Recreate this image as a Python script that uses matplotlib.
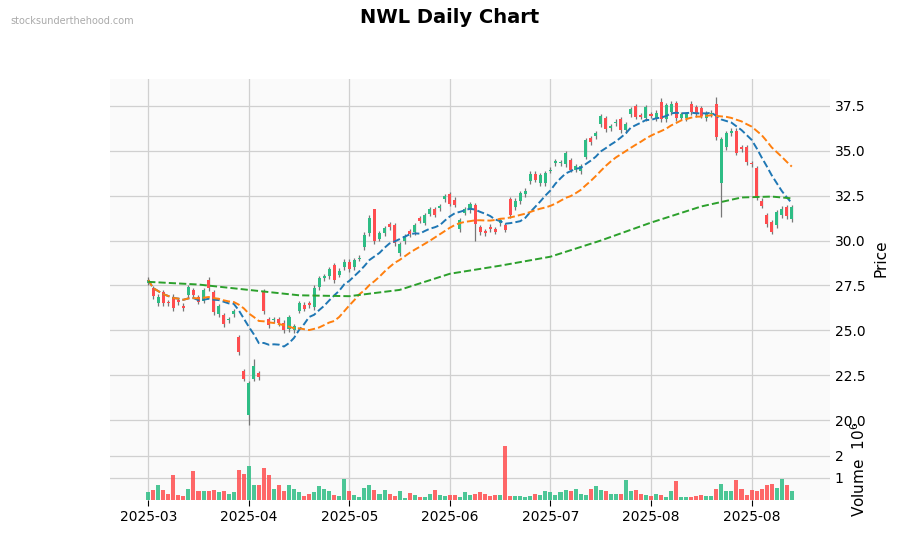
import numpy as np
import pandas as pd
import matplotlib
matplotlib.use("Agg")
import matplotlib.pyplot as plt

# open/close per trading day
opens = [27.65, 27.3, 26.5, 27.1, 26.55, 26.85, 26.65, 26.35, 26.95, 27.2,
         26.8, 26.65, 27.8, 27.1, 25.9, 25.8, 25.55, 25.9, 24.6, 22.7,
         20.3, 22.3, 22.6, 27.1, 25.6, 25.55, 25.6, 25.4, 25.05, 25.0,
         26.1, 26.4, 26.5, 26.3, 27.4, 27.9, 28.0, 28.6, 28.1, 28.5,
         28.8, 28.5, 29.0, 29.65, 30.4, 31.7, 30.1, 30.4, 30.9, 30.85,
         29.3, 29.95, 30.5, 30.45, 31.2, 31.0, 31.5, 31.7, 31.8, 32.3,
         32.55, 32.25, 30.65, 31.55, 31.7, 31.95, 30.7, 30.5, 30.75, 30.6,
         30.95, 30.85, 32.3, 31.85, 32.2, 32.6, 33.3, 33.7, 33.2, 33.2,
         33.9, 34.3, 34.3, 34.25, 34.45, 33.95, 33.85, 34.67, 35.66, 35.8,
         36.5, 36.8, 36.25, 36.55, 36.75, 36.15, 37.05, 37.45, 36.95, 36.8,
         37.0, 36.8, 37.7, 36.75, 37.15, 37.65, 36.85, 36.8, 37.6, 37.4,
         37.35, 36.8, 37.05, 37.6, 33.2, 35.2, 36.0, 36.1, 35.2, 35.2,
         34.3, 34.0, 32.2, 31.4, 31.0, 30.85, 31.4, 31.85, 31.2]
closes = [27.8, 26.9, 26.85, 26.5, 26.5, 26.25, 26.55, 26.25, 27.4, 26.95,
          26.6, 27.2, 27.35, 26.0, 26.3, 25.35, 25.6, 26.05, 23.8, 22.3,
          22.05, 23.0, 22.4, 26.1, 25.3, 25.6, 25.4, 25.0, 25.7, 25.2,
          26.5, 26.2, 26.4, 27.35, 27.9, 28.0, 28.4, 27.8, 28.3, 28.8,
          28.4, 28.9, 29.02, 30.3, 31.25, 29.95, 30.4, 30.65, 30.75, 29.85,
          29.75, 30.2, 30.35, 30.85, 31.1, 31.4, 31.7, 31.45, 31.9, 32.45,
          32.05, 32.0, 31.1, 31.7, 32.0, 30.9, 30.45, 30.4, 30.65, 30.5,
          31.1, 30.6, 31.4, 32.2, 32.6, 32.75, 33.7, 33.4, 33.6, 33.75,
          33.92, 34.4, 34.35, 34.85, 33.95, 34.1, 34.1, 35.56, 35.5, 35.95,
          36.9, 36.2, 36.35, 36.6, 36.15, 36.45, 37.3, 36.9, 36.9, 37.4,
          36.95, 37.1, 36.75, 37.5, 37.6, 36.8, 37.0, 37.0, 37.15, 37.05,
          36.95, 37.05, 37.1, 35.75, 35.6, 35.95, 36.1, 34.9, 35.1, 34.35,
          34.25, 32.4, 31.95, 30.9, 30.5, 31.55, 31.75, 31.35, 31.85]
# days with long wicks
wick_lows = {20: 19.7, 114: 31.3, 21: 22.2, 23: 25.9, 49: 29.7, 65: 30.0}
wick_highs = {23: 27.3, 21: 23.4, 45: 31.75, 102: 37.95, 113: 38.0, 87: 35.7}
volumes = [0.34, 0.44, 0.68, 0.44, 0.29, 1.11, 0.23, 0.19, 0.48, 1.3,
           0.39, 0.39, 0.39, 0.44, 0.34, 0.39, 0.29, 0.34, 1.35, 1.16,
           1.55, 0.68, 0.68, 1.45, 1.11, 0.48, 0.68, 0.39, 0.68, 0.48,
           0.34, 0.19, 0.29, 0.34, 0.63, 0.48, 0.39, 0.24, 0.19, 0.97,
           0.39, 0.24, 0.15, 0.53, 0.68, 0.44, 0.29, 0.44, 0.29, 0.19,
           0.39, 0.1, 0.3, 0.24, 0.15, 0.15, 0.29, 0.44, 0.24, 0.19,
           0.24, 0.24, 0.15, 0.34, 0.24, 0.29, 0.34, 0.29, 0.19, 0.24,
           0.24, 2.45, 0.19, 0.19, 0.19, 0.15, 0.19, 0.29, 0.24, 0.39,
           0.34, 0.24, 0.34, 0.44, 0.39, 0.48, 0.29, 0.24, 0.48, 0.63,
           0.44, 0.39, 0.29, 0.29, 0.29, 0.92, 0.39, 0.44, 0.29, 0.24,
           0.19, 0.25, 0.24, 0.15, 0.39, 0.87, 0.15, 0.15, 0.15, 0.19,
           0.24, 0.19, 0.19, 0.48, 0.73, 0.39, 0.39, 0.92, 0.48, 0.24,
           0.44, 0.39, 0.48, 0.68, 0.73, 0.53, 0.97, 0.68, 0.39]
ma_long_idx = [0, 10, 20, 30, 40, 50, 60, 70, 80, 90, 100, 110, 118, 124, 128]
ma_long_val = [27.7, 27.55, 27.25, 26.95, 26.9, 27.25, 28.15, 28.6, 29.1, 30.0,
               31.0, 31.9, 32.4, 32.45, 32.35]
tick_pos = [0, 20, 40, 60, 80, 100, 120]
tick_labels = ["2025-03", "2025-04", "2025-05", "2025-06", "2025-07", "2025-08", "2025-08"]

up_c, dn_c = "#2ebd85", "#ff4d4f"
o = np.array(opens)
c = np.array(closes)
x = np.arange(len(c))
hi = np.maximum(o, c) + 0.15
lo = np.minimum(o, c) - 0.15
for k, v in wick_highs.items():
    hi[k] = v
for k, v in wick_lows.items():
    lo[k] = v
cols = [up_c if cc >= oo else dn_c for oo, cc in zip(o, c)]

fig = plt.figure(figsize=(8.99, 5.33), dpi=100)
ax = fig.add_axes([110 / 899, 1 - 438 / 533, 720 / 899, 359 / 533])
axv = fig.add_axes([110 / 899, 1 - 500 / 533, 720 / 899, 62 / 533], sharex=ax)

for a in (ax, axv):
    a.set_facecolor("#fafafa")
    a.grid(True, color="#d0d0d0", linewidth=0.9)
    a.set_axisbelow(True)
    for s in a.spines.values():
        s.set_visible(False)
    a.yaxis.tick_right()
    a.yaxis.set_label_position("right")
    a.tick_params(length=0, labelsize=10)

ax.vlines(x, lo, hi, color="#777777", linewidth=0.9, zorder=2)
ax.bar(x, np.abs(c - o) + 0.03, bottom=np.minimum(o, c), width=0.6, color=cols, zorder=3)

s = pd.Series(c)
ax.plot(x, s.rolling(10, min_periods=1).mean(), "--", color="#1f77b4", lw=1.4, zorder=4)
ax.plot(x, s.rolling(20, min_periods=1).mean(), "--", color="#ff7f0e", lw=1.4, zorder=4)
ax.plot(ma_long_idx, ma_long_val, "--", color="#2ca02c", lw=1.4, zorder=4)

ax.set_ylim(19.0, 39.0)
ax.set_yticks([20, 22.5, 25, 27.5, 30, 32.5, 35, 37.5])
ax.set_ylabel("Price", fontsize=11, labelpad=6)
plt.setp(ax.get_xticklabels(), visible=False)

axv.bar(x, volumes, width=0.8, color=cols, alpha=0.85)
axv.set_ylim(0, 2.8)
axv.set_yticks([1, 2])
axv.set_ylabel("Volume  $10^{6}$", fontsize=11, labelpad=4)
axv.set_xticks(tick_pos)
axv.set_xticklabels(tick_labels)
axv.tick_params(axis="x", length=4, labelsize=10)
axv.set_xlim(-7.6, 135.6)

fig.suptitle("NWL Daily Chart", fontsize=14, fontweight="bold", y=0.985)
fig.text(0.012, 0.955, "stocksunderthehood.com", fontsize=7, color="#aaaaaa")
fig.savefig("out.png", dpi=100)
